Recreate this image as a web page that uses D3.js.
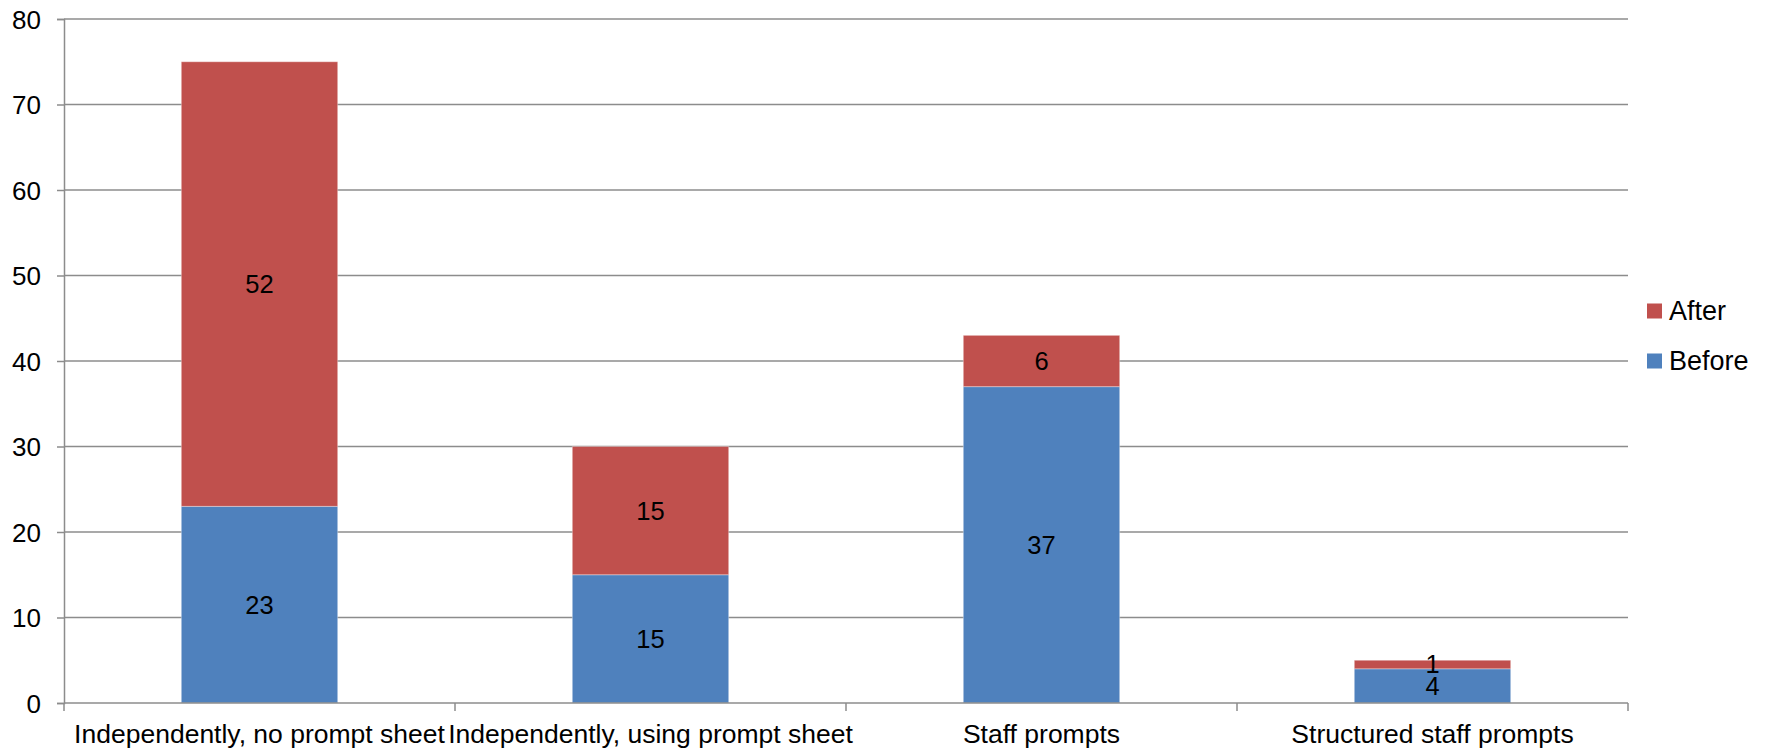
<!DOCTYPE html>
<html>
<head>
<meta charset="utf-8">
<script src="https://cdn.jsdelivr.net/npm/d3@7"></script>
<style>
  html, body { margin: 0; padding: 0; background: #fff; }
  svg { display: block; }
  text { font-family: "Liberation Sans", Arial, sans-serif; fill: #000; }
</style>
</head>
<body>
<svg id="chart" width="1771" height="750"></svg>
<script>
const categories = [
  "Independently, no prompt sheet",
  "Independently, using prompt sheet",
  "Staff prompts",
  "Structured staff prompts"
];
const seriesNames = ["Before", "After"];
const beforeValues = [23, 15, 37, 4];
const afterValues = [52, 15, 6, 1];
const yTicks = [0, 10, 20, 30, 40, 50, 60, 70, 80];
const colors = { Before: "#4F81BD", After: "#C0504D" };

const svg = d3.select("#chart");
const margin = { left: 64, right: 1771 - 1628, top: 19, bottom: 750 - 703 };
const W = 1771, H = 750;
const plotW = W - margin.left - margin.right;
const plotH = H - margin.top - margin.bottom;

const x = d3.scaleBand().domain(categories).range([margin.left, margin.left + plotW]).paddingInner(0.6).paddingOuter(0.3);
const y = d3.scaleLinear().domain([0, 80]).range([margin.top + plotH, margin.top]);

const table = categories.map((c, i) => ({ cat: c, Before: beforeValues[i], After: afterValues[i] }));
const stacked = d3.stack().keys(seriesNames)(table);

const gridColor = "#8c8c8c";

// gridlines
svg.append("g").selectAll("line").data(yTicks.filter(t => t > 0)).join("line")
  .attr("x1", margin.left).attr("x2", margin.left + plotW)
  .attr("y1", d => y(d)).attr("y2", d => y(d))
  .attr("stroke", gridColor).attr("stroke-width", 1.5);

// bars
const layers = svg.append("g").selectAll("g").data(stacked).join("g")
  .attr("fill", d => colors[d.key]);
layers.selectAll("rect").data(d => d).join("rect")
  .attr("x", d => x(d.data.cat))
  .attr("width", x.bandwidth())
  .attr("y", d => y(d[1]))
  .attr("height", d => y(d[0]) - y(d[1]))
  .attr("stroke", "rgba(255,255,255,0.35)").attr("stroke-width", 1);

// y axis
const yAxis = d3.axisLeft(y).tickValues(yTicks).tickSize(7).tickPadding(16);
const gy = svg.append("g").attr("transform", `translate(${margin.left},0)`).call(yAxis);
gy.select(".domain").attr("stroke", gridColor).attr("stroke-width", 1.5);
gy.selectAll(".tick line").attr("stroke", gridColor).attr("stroke-width", 1.5);
gy.selectAll(".tick text").style("font-size", "26px").attr("fill", "#000").attr("dy", "0.35em")
  .style("font-family", '"Liberation Sans", Arial, sans-serif');

// x axis
const boundaries = d3.range(categories.length + 1).map(i => margin.left + i * plotW / categories.length);
const gx = svg.append("g");
gx.append("line").attr("x1", margin.left).attr("x2", margin.left + plotW)
  .attr("y1", y(0)).attr("y2", y(0)).attr("stroke", gridColor).attr("stroke-width", 1.5);
gx.selectAll("line.tk").data(boundaries).join("line").attr("class", "tk")
  .attr("x1", d => d).attr("x2", d => d).attr("y1", y(0)).attr("y2", y(0) + 8)
  .attr("stroke", gridColor).attr("stroke-width", 1.5);
gx.selectAll("text").data(categories).join("text")
  .attr("x", d => x(d) + x.bandwidth() / 2)
  .attr("y", y(0) + 40)
  .attr("text-anchor", "middle")
  .style("font-size", "26.5px")
  .text(d => d);

// data labels
layers.selectAll("text").data(d => d.map(v => ({ v, key: d.key }))).join("text")
  .attr("x", d => x(d.v.data.cat) + x.bandwidth() / 2)
  .attr("y", d => (y(d.v[0]) + y(d.v[1])) / 2)
  .attr("dy", "0.35em")
  .attr("text-anchor", "middle")
  .style("font-size", "25.5px")
  .style("fill", "#000")
  .text(d => d.v.data[d.key]);

// legend
const legendItems = ["After", "Before"];
const lg = svg.append("g").selectAll("g").data(legendItems).join("g")
  .attr("transform", (d, i) => `translate(1647,${311 + i * 50})`);
lg.append("rect").attr("x", 0).attr("y", -7.5).attr("width", 15).attr("height", 15)
  .attr("fill", d => colors[d]);
lg.append("text").attr("x", 22).attr("y", 0).attr("dy", "0.35em")
  .style("font-size", "27px").text(d => d);
</script>
</body>
</html>
